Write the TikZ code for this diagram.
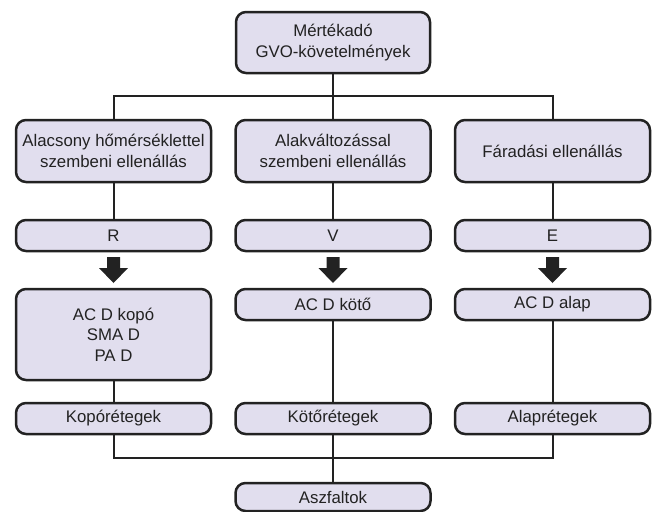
\documentclass[tikz,border=0pt]{standalone}
\usepackage{fontspec}
\setmainfont{Liberation Sans}
\definecolor{boxfill}{RGB}{225,222,238}
\definecolor{ink}{RGB}{34,34,34}
\begin{document}
\begin{tikzpicture}[x=1pt,y=-1pt,
  box/.style={draw=ink, line width=2.5pt, fill=boxfill, rounded corners=10pt,
    minimum width=195pt, align=center, inner sep=0pt, text=ink,
    font=\fontsize{16.8}{20.5}\selectfont},
  conn/.style={draw=ink, line width=2pt},
  blockarrow/.style={fill=ink, draw=none}]
\useasboundingbox (0,0) rectangle (657,512);
% top
\node[box, minimum width=194pt, minimum height=61pt] (top) at (333,42.5) {Mértékadó\\GVO-követelmények};
% row 2
\node[box, minimum height=62pt] (a2) at (113.5,151) {Alacsony hőmérséklettel\\szembeni ellenállás};
\node[box, minimum height=62pt] (b2) at (333,151) {Alakváltozással\\szembeni ellenállás};
\node[box, minimum height=62pt] (c2) at (552.5,151) {Fáradási ellenállás};
% row 3
\node[box, minimum height=31pt] (a3) at (113.5,235.5) {R};
\node[box, minimum height=31pt] (b3) at (333,235.5) {V};
\node[box, minimum height=31pt] (c3) at (552.5,235.5) {E};
% row 4
\node[box, minimum height=91pt] (a4) at (113.5,334.5) {AC D kopó\\SMA D\\PA D};
\node[box, minimum height=31pt] (b4) at (333,304.5) {AC D kötő};
\node[box, minimum height=31pt] (c4) at (552.5,304.5) {AC D alap};
% row 5
\node[box, minimum height=31pt] (a5) at (113.5,418.5) {Kopórétegek};
\node[box, minimum height=31pt] (b5) at (333,418.5) {Kötőrétegek};
\node[box, minimum height=31pt] (c5) at (552.5,418.5) {Alaprétegek};
% bottom
\node[box, minimum height=28pt] (asz) at (333,497) {Aszfaltok};
% connectors
\coordinate (h1) at (333,96);
\coordinate (h2) at (333,458);
\draw[conn] (top.south) -- (h1);
\draw[conn] (h1) -| (a2.north);
\draw[conn] (h1) -| (c2.north);
\draw[conn] (h1) -- (b2.north);
\draw[conn] (a2.south) -- (a3.north);
\draw[conn] (b2.south) -- (b3.north);
\draw[conn] (c2.south) -- (c3.north);
\draw[conn] (a4.south) -- (a5.north);
\draw[conn] (b4.south) -- (b5.north);
\draw[conn] (c4.south) -- (c5.north);
\draw[conn] (a5.south) |- (h2);
\draw[conn] (c5.south) |- (h2);
\draw[conn] (b5.south) -- (asz.north);
% block arrows
\foreach \cx in {113.5,333,552.5}{
  \fill[blockarrow] (\cx-6.5,257) -- (\cx+6.5,257) -- (\cx+6.5,268) -- (\cx+14.5,268)
    -- (\cx,283) -- (\cx-14.5,268) -- (\cx-6.5,268) -- cycle;
}
\end{tikzpicture}
\end{document}
